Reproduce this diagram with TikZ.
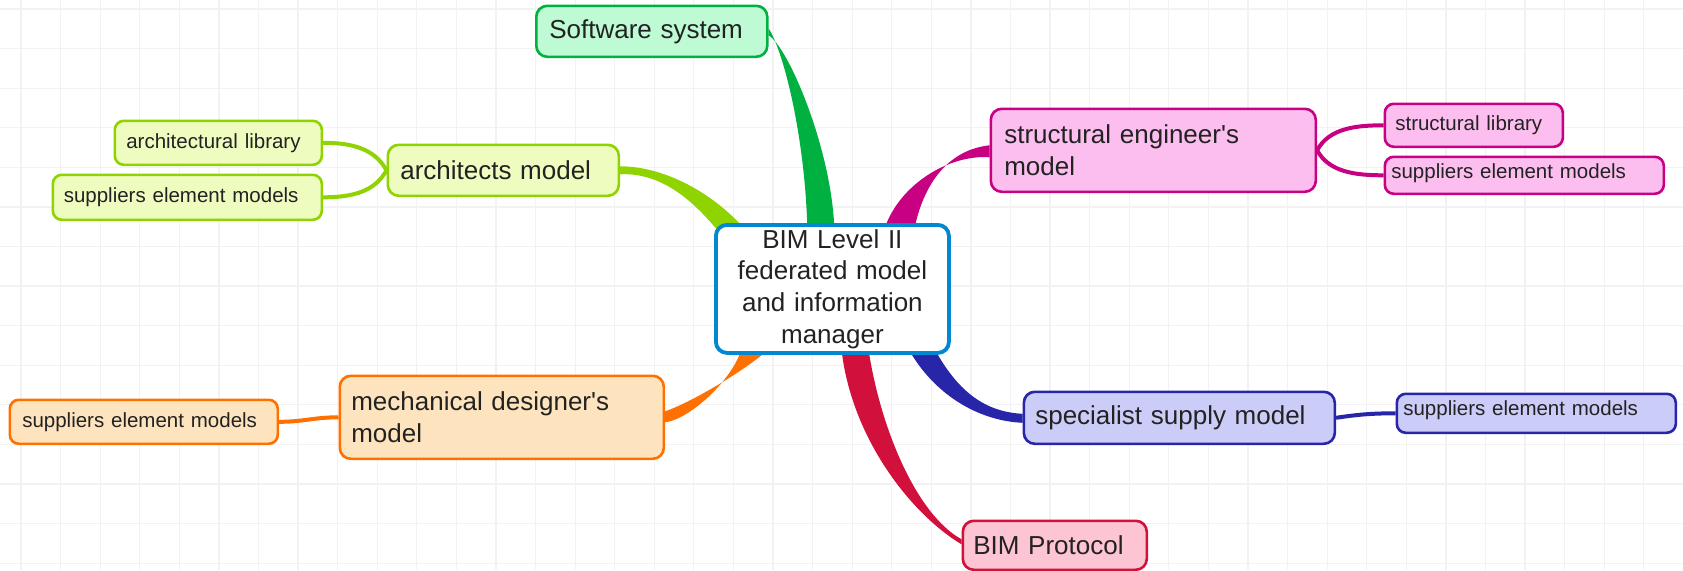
\documentclass[tikz,border=0pt]{standalone}
\usepackage{fontspec}
\setmainfont{Liberation Sans}
\usetikzlibrary{calc}
\pgfdeclarelayer{gridlayer}
\pgfdeclarelayer{links}
\pgfsetlayers{gridlayer,links,main}
\definecolor{txt}{RGB}{34,34,34}
\definecolor{gridc}{RGB}{242,242,242}
\definecolor{grB}{RGB}{0,176,64}\definecolor{grF}{RGB}{190,250,212}
\definecolor{liB}{RGB}{143,211,0}\definecolor{liF}{RGB}{239,252,192}
\definecolor{mgB}{RGB}{200,0,130}\definecolor{mgF}{RGB}{252,190,238}
\definecolor{blB}{RGB}{40,38,168}\definecolor{blF}{RGB}{204,204,248}
\definecolor{crB}{RGB}{210,16,60}\definecolor{crF}{RGB}{253,196,212}
\definecolor{orB}{RGB}{255,112,0}\definecolor{orF}{RGB}{254,228,190}
\definecolor{ceB}{RGB}{2,136,209}
\newcommand{\bigtxt}{\fontsize{26}{31.7}\selectfont}
\newcommand{\smalltxt}{\fontsize{20.5}{24}\selectfont}
\tikzset{
  topicbox/.style={rounded corners=11pt, line width=2.6pt, anchor=north west, align=left,
    inner ysep=0pt, text=txt, font=\bigtxt},
  subbox/.style={rounded corners=9pt, line width=2.6pt, anchor=north west, align=left,
    inner ysep=0pt, text=txt, font=\smalltxt},
  sublink/.style={line width=4pt}
}
\begin{document}
\begin{tikzpicture}[x=1pt,y=-1pt]
\useasboundingbox (0,0) rectangle (1683,570);
\begin{pgfonlayer}{gridlayer}
  \fill[white] (0,0) rectangle (1683,570);
  \foreach \i in {0,...,42} {\pgfmathsetmacro\gx{21+39.58*\i}
    \draw[gridc, line width=1.2pt] (\gx,0) -- (\gx,570);}
  \foreach \j in {0,...,14} {\pgfmathsetmacro\gy{9+39.58*\j}
    \draw[gridc, line width=1.2pt] (0,\gy) -- (1683,\gy);}
\end{pgfonlayer}

% central node
\node[rounded corners=11pt, line width=3.8pt, draw=ceB, fill=white, anchor=north west,
  align=center, text width=221pt, inner xsep=6pt, minimum height=128pt, text=txt,
  font=\bigtxt] (c) at (714,223) {BIM Level II\\ federated model\\ and information\\ manager};

% main topics
\node[topicbox, draw=grB, fill=grF, text width=205pt, inner xsep=13pt, minimum height=51pt]
  (sw) at (535,4.5) {Software system};
\node[topicbox, draw=liB, fill=liF, text width=206pt, inner xsep=12.5pt, minimum height=51pt]
  (arch) at (386.5,143.5) {architects model};
\node[topicbox, draw=mgB, fill=mgF, text width=298pt, inner xsep=13.5pt, minimum height=83pt]
  (struct) at (989.5,107.5) {structural engineer\textquotesingle s\\ model};
\node[topicbox, draw=blB, fill=blF, text width=288pt, inner xsep=11.5pt, minimum height=52pt]
  (spec) at (1022.5,390.5) {specialist supply model};
\node[topicbox, draw=crB, fill=crF, text width=163pt, inner xsep=10.5pt, minimum height=49pt]
  (prot) at (961.5,519.5) {BIM Protocol};
\node[topicbox, draw=orB, fill=orF, text width=301pt, inner xsep=11.5pt, minimum height=83pt]
  (mech) at (338.5,374.5) {mechanical designer\textquotesingle s\\ model};

% sub topics
\node[subbox, draw=liB, fill=liF, text width=184pt, inner xsep=11.5pt, minimum height=44pt]
  (archlib) at (113.5,119.5) {architectural library};
\node[subbox, draw=liB, fill=liF, text width=247pt, inner xsep=11pt, minimum height=45pt]
  (archsup) at (51.5,173.5) {suppliers element models};
\node[subbox, draw=mgB, fill=mgF, text width=157pt, inner xsep=10.5pt, minimum height=43pt]
  (structlib) at (1383.5,102.5) {structural library};
\node[subbox, draw=mgB, fill=mgF, text width=266pt, inner xsep=6.5pt, minimum height=37pt,
  text height=15pt, text depth=9pt]
  (structsup) at (1383.5,155.5) {suppliers element models};
\node[subbox, draw=blB, fill=blF, text width=266pt, inner xsep=6.5pt, minimum height=39pt,
  text height=15pt, text depth=10pt]
  (specsup) at (1395.5,392.5) {suppliers element models};
\node[subbox, draw=orB, fill=orF, text width=243pt, inner xsep=12.5pt, minimum height=44pt]
  (mechsup) at (8.5,398.5) {suppliers element models};

\begin{pgfonlayer}{links}
  % tapered branches to the centre
  \fill[grB] ($(sw.east)+(0,-3)$) .. controls +(16,25) and +(-2,-90) .. ($(c.north)+(-25,8)$)
     -- ($(c.north)+(2,8)$) .. controls +(-2,-80) and +(20,12) .. ($(sw.east)+(0,4)$) -- cycle;
  \fill[liB] ($(arch.east)+(0,-4)$) .. controls +(45,0) and +(-30,-35) .. ($(c.north)+(-88,6)$)
     -- ($(c.north)+(-116,6)$) .. controls +(-25,-30) and +(40,-2) .. ($(arch.east)+(0,4)$) -- cycle;
  \fill[mgB] ($(struct.west)+(0,-5)$) .. controls +(-45,5) and +(8,-40) .. ($(c.north)+(82,6)$)
     -- ($(c.north)+(52,6)$) .. controls +(15,-45) and +(-40,-3) .. ($(struct.west)+(0,7)$) -- cycle;
  \fill[blB] ($(c.south)+(102,-6)$) .. controls +(22,40) and +(-40,-2) .. ($(spec.west)+(0,-4)$)
     -- ($(spec.west)+(0,5)$) .. controls +(-45,-2) and +(25,45) .. ($(c.south)+(76,-6)$) -- cycle;
  \fill[crB] ($(c.south)+(36,-6)$) .. controls +(12,80) and +(-45,-25) .. ($(prot.west)+(0,-6)$)
     -- ($(prot.west)+(0,-1)$) .. controls +(-50,-30) and +(10,90) .. ($(c.south)+(9,-6)$) -- cycle;
  \fill[orB] ($(mech.east)+(0,-6)$) .. controls +(29,-10) and +(-22.5,20) .. ($(c.south)+(-63,-6)$)
     -- ($(c.south)+(-91,-6)$) .. controls +(-8,30) and +(25,-3) .. ($(mech.east)+(0,5)$) -- cycle;
  % sub-topic links
  \draw[sublink, liB] (arch.west) .. controls +(-12,-22) and +(28,0) .. (archlib.east);
  \draw[sublink, liB] (arch.west) .. controls +(-12,22) and +(28,0) .. (archsup.east);
  \draw[sublink, mgB] (struct.east) .. controls +(12,-22) and +(-28,0) .. (structlib.west);
  \draw[sublink, mgB] (struct.east) .. controls +(12,22) and +(-28,0) .. (structsup.west);
  \draw[sublink, orB] (mech.west) .. controls +(-25,0) and +(25,0) .. (mechsup.east);
  \draw[sublink, blB] (spec.east) .. controls +(20,-3) and +(-25,0) .. (specsup.west);
\end{pgfonlayer}
\end{tikzpicture}
\end{document}
